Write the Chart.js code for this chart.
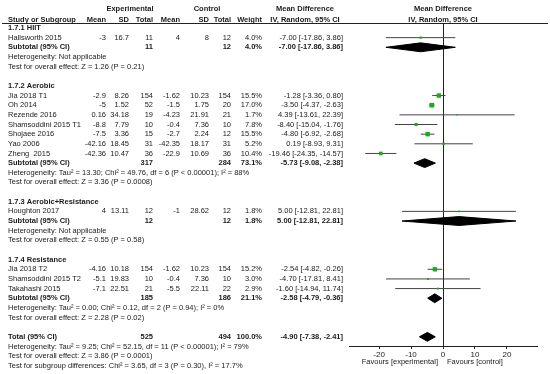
<!DOCTYPE html>
<html>
<head>
<meta charset="utf-8">
<script src="https://cdn.jsdelivr.net/npm/chart.js@4.4.0/dist/chart.umd.min.js"></script>
<style>
  html, body { margin: 0; padding: 0; background: #fff; }
  #forest { display: block; }
</style>
</head>
<body>
<canvas id="forest" width="550" height="374"></canvas>
<script>
// ---- data ----
const groups = ['1.7.1 HIIT', '1.7.2 Aerobic', '1.7.3 Aerobic+Resistance', '1.7.4 Resistance'];
const groupSize = [1, 7, 1, 3];

const studies = ['Hallsworth 2015', 'Jia 2018 T1', 'Oh 2014', 'Rezende 2016', 'Shamsoddini 2015 T1',
  'Shojaee 2016', 'Yao 2006', 'Zheng  2015', 'Houghton 2017', 'Jia 2018 T2', 'Shamsoddini 2015 T2', 'Takahashi 2015'];
const expMean = [-3, -2.9, -5, 0.16, -8.8, -7.5, -42.16, -42.36, 4, -4.16, -5.1, -7.1];
const expSD = [16.7, 8.26, 1.52, 34.18, 7.79, 3.36, 18.45, 10.47, 13.11, 10.18, 19.83, 22.51];
const expN = [11, 154, 52, 19, 10, 15, 31, 36, 12, 154, 10, 21];
const ctlMean = [4, -1.62, -1.5, -4.23, -0.4, -2.7, -42.35, -22.9, -1, -1.62, -0.4, -5.5];
const ctlSD = [8, 10.23, 1.75, 21.91, 7.36, 2.24, 18.17, 10.69, 28.62, 10.23, 7.36, 22.11];
const ctlN = [12, 154, 20, 21, 10, 12, 31, 36, 12, 154, 10, 22];
const weight = [4.0, 15.5, 17.0, 1.7, 7.8, 15.5, 5.2, 10.4, 1.8, 15.2, 3.0, 2.9];
const md = [-7.00, -1.28, -3.50, 4.39, -8.40, -4.80, 0.19, -19.46, 5.00, -2.54, -4.70, -1.60];
const lo = [-17.86, -3.36, -4.37, -13.61, -15.04, -6.92, -8.93, -24.35, -12.81, -4.82, -17.81, -14.94];
const hi = [3.86, 0.80, -2.63, 22.39, -1.76, -2.68, 9.31, -14.57, 22.81, -0.26, 8.41, 11.74];

const subExpN = [11, 317, 12, 185];
const subCtlN = [12, 284, 12, 186];
const subWeight = [4.0, 73.1, 1.8, 21.1];
const subMd = [-7.00, -5.73, 5.00, -2.58];
const subLo = [-17.86, -9.08, -12.81, -4.79];
const subHi = [3.86, -2.38, 22.81, -0.36];
const subHet = [
  'Heterogeneity: Not applicable',
  'Heterogeneity: Tau\u00b2 = 13.30; Chi\u00b2 = 49.76, df = 6 (P < 0.00001); I\u00b2 = 88%',
  'Heterogeneity: Not applicable',
  'Heterogeneity: Tau\u00b2 = 0.00; Chi\u00b2 = 0.12, df = 2 (P = 0.94); I\u00b2 = 0%'
];
const subTest = [
  'Test for overall effect: Z = 1.26 (P = 0.21)',
  'Test for overall effect: Z = 3.36 (P = 0.0008)',
  'Test for overall effect: Z = 0.55 (P = 0.58)',
  'Test for overall effect: Z = 2.28 (P = 0.02)'
];

const totalExpN = 525;
const totalCtlN = 494;
const totalMd = -4.90;
const totalLo = -7.38;
const totalHi = -2.41;
const footer = [
  'Heterogeneity: Tau\u00b2 = 9.25; Chi\u00b2 = 52.15, df = 11 (P < 0.00001); I\u00b2 = 79%',
  'Test for overall effect: Z = 3.86 (P = 0.0001)',
  'Test for subgroup differences: Chi\u00b2 = 3.65, df = 3 (P = 0.30), I\u00b2 = 17.7%'
];

const xTicks = [-20, -10, 0, 10, 20];

// ---- layout / style ----
const FONT = '"Liberation Sans", Arial, sans-serif';
const FS = 7.5;
const COL = { name: 8, expMean: 106, expSD: 129, expN: 153, ctlMean: 180, ctlSD: 209, ctlN: 231, weight: 262, ci: 343 };
const DIAMOND_H = 0.46;
const TEXT = '#1a1a1a';

const fmt = v => v.toFixed(2);
const ciText = (m, l, h) => fmt(m) + ' [' + fmt(l) + ', ' + fmt(h) + ']';

// build the table rows (row index = one text line)
const lines = [];
const studyRow = [];
const diamonds = [];
let r = 0, s = 0;
groups.forEach((g, gi) => {
  lines.push({ row: r++, cells: [[g, COL.name, 'left', true]] });
  for (let k = 0; k < groupSize[gi]; k++, s++) {
    studyRow.push(r);
    lines.push({ row: r++, cells: [
      [studies[s], COL.name, 'left'],
      [String(expMean[s]), COL.expMean, 'right'],
      [String(expSD[s]), COL.expSD, 'right'],
      [String(expN[s]), COL.expN, 'right'],
      [String(ctlMean[s]), COL.ctlMean, 'right'],
      [String(ctlSD[s]), COL.ctlSD, 'right'],
      [String(ctlN[s]), COL.ctlN, 'right'],
      [weight[s].toFixed(1) + '%', COL.weight, 'right'],
      [ciText(md[s], lo[s], hi[s]), COL.ci, 'right']
    ] });
  }
  diamonds.push({ row: r, m: subMd[gi], l: subLo[gi], h: subHi[gi] });
  lines.push({ row: r++, cells: [
    ['Subtotal (95% CI)', COL.name, 'left', true],
    [String(subExpN[gi]), COL.expN, 'right', true],
    [String(subCtlN[gi]), COL.ctlN, 'right', true],
    [subWeight[gi].toFixed(1) + '%', COL.weight, 'right', true],
    [ciText(subMd[gi], subLo[gi], subHi[gi]), COL.ci, 'right', true]
  ] });
  lines.push({ row: r++, cells: [[subHet[gi], COL.name, 'left']] });
  lines.push({ row: r++, cells: [[subTest[gi], COL.name, 'left']] });
  r++;
});
diamonds.push({ row: r, m: totalMd, l: totalLo, h: totalHi });
lines.push({ row: r++, cells: [
  ['Total (95% CI)', COL.name, 'left', true],
  [String(totalExpN), COL.expN, 'right', true],
  [String(totalCtlN), COL.ctlN, 'right', true],
  ['100.0%', COL.weight, 'right', true],
  [ciText(totalMd, totalLo, totalHi), COL.ci, 'right', true]
] });
footer.forEach(t => lines.push({ row: r++, cells: [[t, COL.name, 'left']] }));

// header lines (fractional rows above the first group)
const headerRows = [
  { row: -1.95, cells: [
    ['Experimental', 130, 'center', true],
    ['Control', 207, 'center', true],
    ['Mean Difference', 305, 'center', true]
  ] },
  { row: -0.8, cells: [
    ['Study or Subgroup', COL.name, 'left', true],
    ['Mean', COL.expMean, 'right', true],
    ['SD', COL.expSD, 'right', true],
    ['Total', COL.expN, 'right', true],
    ['Mean', COL.ctlMean, 'right', true],
    ['SD', COL.ctlSD, 'right', true],
    ['Total', COL.ctlN, 'right', true],
    ['Weight', COL.weight, 'right', true],
    ['IV, Random, 95% CI', 305, 'center', true]
  ] }
];

// ---- datasets ----
const datasets = [];
datasets.push({
  label: 'studies',
  data: studies.map((_, i) => ({ x: md[i], y: studyRow[i] })),
  pointStyle: 'rect',
  pointRadius: weight.map(w => 0.8 * Math.sqrt(w)),
  backgroundColor: '#22a722',
  borderWidth: 0,
  showLine: false
});
studies.forEach((_, i) => {
  datasets.push({
    label: 'ci ' + i,
    data: [{ x: lo[i], y: studyRow[i] }, { x: hi[i], y: studyRow[i] }],
    showLine: true,
    borderColor: '#444',
    borderWidth: 1,
    pointRadius: 0
  });
});
diamonds.forEach((d, i) => {
  datasets.push({
    label: 'diamond ' + i,
    data: [
      { x: d.l, y: d.row }, { x: d.m, y: d.row - DIAMOND_H },
      { x: d.h, y: d.row }, { x: d.m, y: d.row + DIAMOND_H }, { x: d.l, y: d.row }
    ],
    showLine: true,
    fill: 'shape',
    backgroundColor: '#000',
    borderColor: '#000',
    borderWidth: 1,
    pointRadius: 0,
    tension: 0
  });
});

// draws the table text, header rule and favours labels
const tablePlugin = {
  id: 'tableText',
  afterDraw(chart) {
    const ctx = chart.ctx;
    const yS = chart.scales.y;
    const xS = chart.scales.x;
    ctx.save();
    ctx.textBaseline = 'middle';
    ctx.fillStyle = TEXT;
    const drawCell = (c, y) => {
      ctx.font = (c[3] ? 'bold ' : '') + FS + 'px ' + FONT;
      ctx.textAlign = c[2];
      ctx.fillText(c[0], c[1], y);
    };
    lines.concat(headerRows).forEach(l => {
      const y = yS.getPixelForValue(l.row);
      l.cells.forEach(c => drawCell(c, y));
    });
    // right hand header, centred on zero
    const x0 = xS.getPixelForValue(0);
    drawCell(['Mean Difference', x0, 'center', true], yS.getPixelForValue(-1.95));
    drawCell(['IV, Random, 95% CI', x0, 'center', true], yS.getPixelForValue(-0.8));

    // rule under the header
    ctx.strokeStyle = '#222';
    ctx.lineWidth = 1;
    ctx.beginPath();
    ctx.moveTo(2, chart.chartArea.top + 0.5);
    ctx.lineTo(548, chart.chartArea.top + 0.5);
    ctx.stroke();

    // favours labels under the axis
    ctx.font = FS + 'px ' + FONT;
    const fy = chart.chartArea.bottom + 16;
    ctx.textAlign = 'right';
    ctx.fillText('Favours [experimental]', x0 - 5, fy);
    ctx.textAlign = 'left';
    ctx.fillText('Favours [control]', x0 + 4, fy);
    ctx.restore();
  }
};

new Chart(document.getElementById('forest'), {
  type: 'scatter',
  data: { datasets: datasets },
  options: {
    responsive: false,
    devicePixelRatio: 1,
    animation: false,
    events: [],
    layout: { padding: { left: 349, right: 13, top: 23, bottom: 0 } },
    plugins: { legend: { display: false }, tooltip: { enabled: false } },
    scales: {
      x: {
        type: 'linear',
        min: -29.4,
        max: 29.4,
        afterBuildTicks: sc => { sc.ticks = xTicks.map(v => ({ value: v })); },
        afterFit: sc => { sc.height = 28; },
        grid: {
          drawOnChartArea: true,
          drawTicks: true,
          tickLength: 3,
          tickColor: '#222',
          color: c => (c.tick && c.tick.value === 0 ? '#222' : 'rgba(0,0,0,0)')
        },
        border: { display: true, color: '#222' },
        ticks: { color: TEXT, font: { family: FONT, size: 8 }, padding: 1 }
      },
      y: {
        type: 'linear',
        display: false,
        reverse: true,
        min: -0.518,
        max: 32.95
      }
    }
  },
  plugins: [tablePlugin]
});
</script>
</body>
</html>
